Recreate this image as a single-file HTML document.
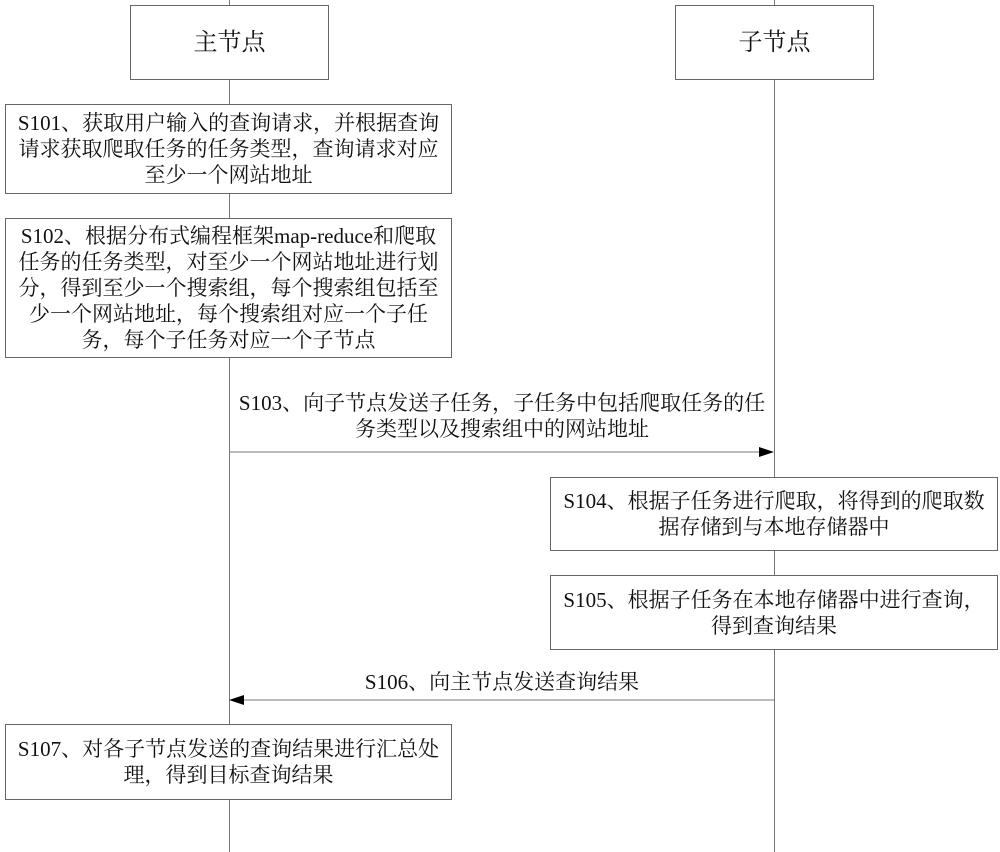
<!DOCTYPE html>
<html><head><meta charset="utf-8"><style>
body{margin:0;width:1000px;height:852px;background:#fff;position:relative;overflow:hidden;font-family:"Liberation Serif","Noto Serif CJK SC",serif;color:#111}
.b{position:absolute;border:1px solid #666;background:#fff;box-sizing:border-box;display:flex;align-items:center;justify-content:center;text-align:center;font-size:21px;line-height:26px;white-space:nowrap}
.l{position:absolute;width:1px;background:#777}
.t{position:absolute;font-size:21px;line-height:26px;text-align:center;white-space:nowrap}
</style></head><body>
<div class="l" style="left:229px;top:0;height:852px"></div>
<div class="l" style="left:774px;top:0;height:852px"></div>
<div class="b" style="left:130px;top:5px;width:199px;height:75px;font-size:24px">主节点</div>
<div class="b" style="left:675px;top:5px;width:199px;height:75px;font-size:24px">子节点</div>
<div class="b" style="left:5px;top:104px;width:447px;height:90px">S101、获取用户输入的查询请求，并根据查询<br>请求获取爬取任务的任务类型，查询请求对应<br>至少一个网站地址</div>
<div class="b" style="left:5px;top:218px;width:447px;height:140px">S102、根据分布式编程框架map-reduce和爬取<br>任务的任务类型，对至少一个网站地址进行划<br>分，得到至少一个搜索组，每个搜索组包括至<br>少一个网站地址，每个搜索组对应一个子任<br>务，每个子任务对应一个子节点</div>
<div class="t" style="left:232px;top:390px;width:540px">S103、向子节点发送子任务，子任务中包括爬取任务的任<br>务类型以及搜索组中的网站地址</div>
<svg style="position:absolute;left:0;top:0" width="1000" height="852">
<line x1="229" y1="452" x2="762" y2="452" stroke="#777" stroke-width="1"/>
<polygon points="774,452 759,447 759,457" fill="#000"/>
<line x1="242" y1="700" x2="774" y2="700" stroke="#777" stroke-width="1"/>
<polygon points="229,700 244,695 244,705" fill="#000"/>
</svg>
<div class="b" style="left:550px;top:477px;width:448px;height:74px">S104、根据子任务进行爬取，将得到的爬取数<br>据存储到与本地存储器中</div>
<div class="b" style="left:550px;top:575px;width:448px;height:75px">S105、根据子任务在本地存储器中进行查询，<br>得到查询结果</div>
<div class="t" style="left:232px;top:669px;width:540px">S106、向主节点发送查询结果</div>
<div class="b" style="left:5px;top:724px;width:447px;height:76px">S107、对各子节点发送的查询结果进行汇总处<br>理，得到目标查询结果</div>
</body></html>
